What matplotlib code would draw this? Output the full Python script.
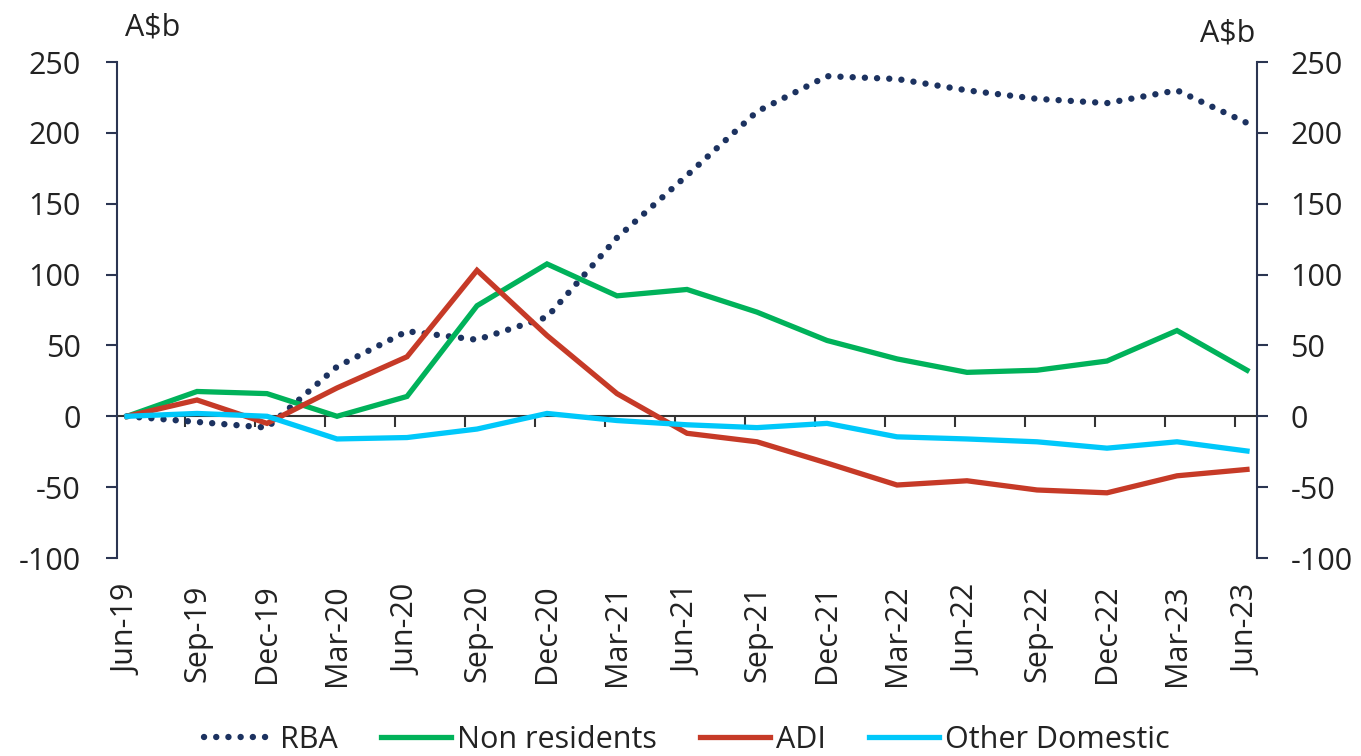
import matplotlib
matplotlib.use("Agg")
import matplotlib.pyplot as plt
import numpy as np

# ---- data ----
quarters = ["Jun-19", "Sep-19", "Dec-19", "Mar-20", "Jun-20", "Sep-20", "Dec-20",
            "Mar-21", "Jun-21", "Sep-21", "Dec-21", "Mar-22", "Jun-22", "Sep-22",
            "Dec-22", "Mar-23", "Jun-23"]
rba = [0, -4, -8, 35, 60, 54, 70, 126, 170, 215, 240, 238, 230, 224, 221, 230, 207]
non_residents = [0, 17.5, 16, 0, 14, 78, 107.5, 85, 89.5, 73.5, 53.5, 40.5, 31, 32.5, 39, 60.5, 32.5]
adi = [0, 11.5, -5, 20, 42, 103, 57, 16, -12, -18, -33, -48.5, -45.5, -52, -54, -42, -37.5]
other_domestic = [0, 2, 0, -16, -15, -9, 2, -3, -6, -8, -5, -14.5, -16, -18, -22.5, -18, -24.5]
y_ticks = [-100, -50, 0, 50, 100, 150, 200, 250]
unit_label = "A$b"

plt.rcParams['font.family'] = ['Open Sans', 'DejaVu Sans']
plt.rcParams['axes.unicode_minus'] = False
TXT = '#222222'
SPINE = '#2b3552'

fig = plt.figure(figsize=(13.61, 7.56), dpi=100)
ax = fig.add_axes([117/1361, 1-558/756, (1257-117)/1361, (558-62)/756])

x = np.arange(len(quarters))
c_rba = '#1c3260'
c_green = '#00b25a'
c_red = '#c63a27'
c_cyan = '#00c8fa'

l_rba, = ax.plot(x, rba, color=c_rba, lw=4.6, linestyle=(0, (0.01, 1.9)),
                 dash_capstyle='round', label='RBA', zorder=3)
l_nr, = ax.plot(x, non_residents, color=c_green, lw=3.8, label='Non residents',
                solid_joinstyle='miter', zorder=4)
l_adi, = ax.plot(x, adi, color=c_red, lw=3.8, label='ADI', solid_joinstyle='miter', zorder=4)
l_od, = ax.plot(x, other_domestic, color=c_cyan, lw=3.8, label='Other Domestic',
                solid_joinstyle='miter', zorder=5)

ax.set_xlim(-0.143, len(quarters) - 1 + 0.143)
ax.set_ylim(-100, 250)
ax.set_yticks(y_ticks)
ax.set_xticks(x)
ax.set_xticklabels(quarters, rotation=90, ha='center', va='top')

for s in ['top', 'right', 'bottom']:
    ax.spines[s].set_visible(False)
ax.spines['left'].set_color(SPINE)
ax.spines['left'].set_linewidth(1.5)
ax.tick_params(axis='x', length=0, pad=19, labelsize=22, labelcolor=TXT)
ax.tick_params(axis='y', length=8, width=1.5, color=SPINE, pad=18, labelsize=22, labelcolor=TXT)

# right axis
ax2 = ax.twinx()
ax2.set_ylim(-100, 250)
ax2.set_yticks(y_ticks)
for s in ['top', 'left', 'bottom']:
    ax2.spines[s].set_visible(False)
ax2.spines['right'].set_color(SPINE)
ax2.spines['right'].set_linewidth(1.5)
ax2.tick_params(axis='y', length=8, width=1.5, color=SPINE, pad=16, labelsize=22, labelcolor=TXT)

# zero line axis with ticks
sec = ax.secondary_xaxis(100/350)
sec.set_xticks(x[1:] - 0.17)
sec.tick_params(axis='x', length=8, width=1.5, color='#333333', labelbottom=False)
sec.spines['bottom'].set_color('#333333')
sec.spines['bottom'].set_linewidth(1.5)

fig.text(125/1361, 1-27/756, unit_label, ha='left', va='center', fontsize=22, color=TXT)
fig.text(1255/1361, 1-33/756, unit_label, ha='right', va='center', fontsize=22, color=TXT)

fig.legend(handles=[l_rba, l_nr, l_adi, l_od], loc='center', ncol=4,
           bbox_to_anchor=(687/1361, 1-740/756), frameon=False, fontsize=22,
           handlelength=2.3, handletextpad=0.2, columnspacing=1.4, labelcolor=TXT,
           borderpad=0, borderaxespad=0)

fig.savefig('out.png', dpi=100)
